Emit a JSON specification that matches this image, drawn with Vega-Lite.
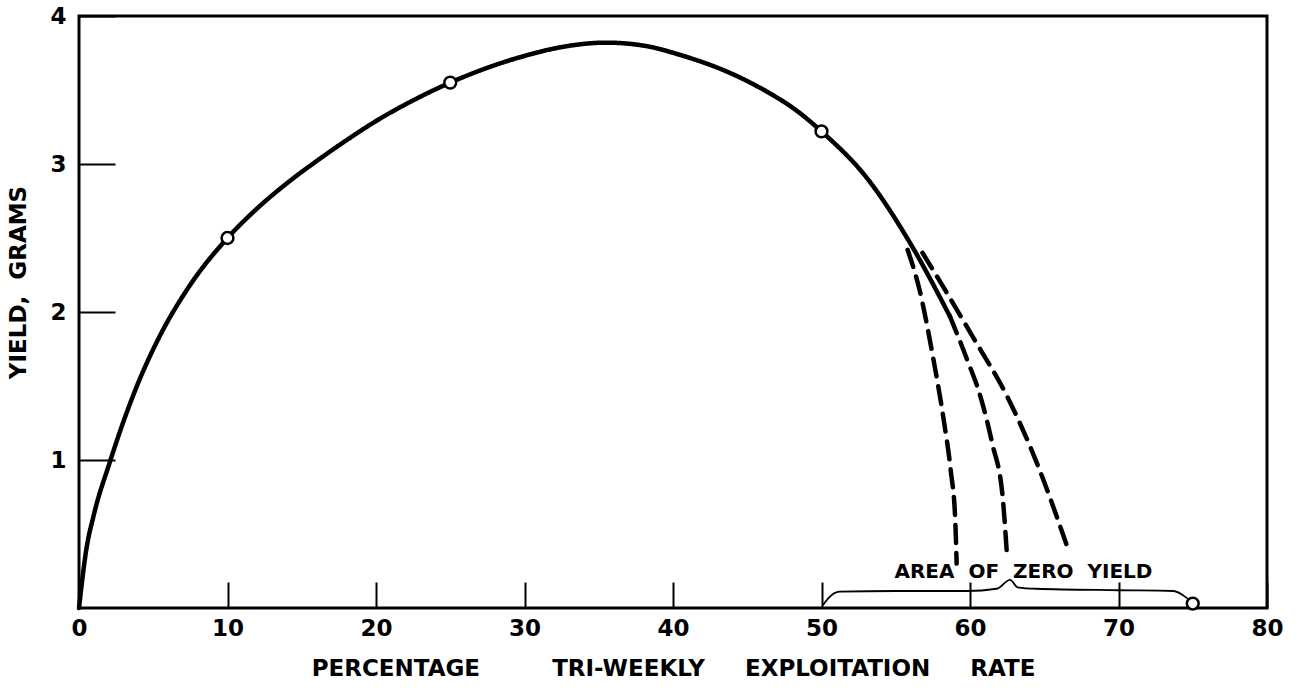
{
  "$schema": "https://vega.github.io/schema/vega-lite/v6.json",
  "width": 1188,
  "height": 592,
  "autosize": "none",
  "padding": {"left": 79, "top": 16, "right": 31, "bottom": 84},
  "background": "white",
  "config": {
    "view": {"stroke": "black", "strokeWidth": 3},
    "axis": {
      "domain": false,
      "grid": false,
      "tickColor": "black",
      "tickWidth": 2,
      "labelColor": "black",
      "labelFont": "DejaVu Sans",
      "labelFontWeight": "bold",
      "labelFontSize": 23,
      "titleColor": "black",
      "titleFont": "DejaVu Sans",
      "titleFontWeight": "bold",
      "titleFontSize": 23
    }
  },
  "datasets": {
    "curves": [
      {"curve": "main", "style": "solid", "rate": 0, "yield": 0},
      {"curve": "main", "style": "solid", "rate": 0.5, "yield": 0.4},
      {"curve": "main", "style": "solid", "rate": 1.0, "yield": 0.63},
      {"curve": "main", "style": "solid", "rate": 2.09, "yield": 0.99},
      {"curve": "main", "style": "solid", "rate": 3.03, "yield": 1.27},
      {"curve": "main", "style": "solid", "rate": 3.9, "yield": 1.5},
      {"curve": "main", "style": "solid", "rate": 5.25, "yield": 1.8},
      {"curve": "main", "style": "solid", "rate": 7.4, "yield": 2.17},
      {"curve": "main", "style": "solid", "rate": 10, "yield": 2.5},
      {"curve": "main", "style": "solid", "rate": 12, "yield": 2.7},
      {"curve": "main", "style": "solid", "rate": 14, "yield": 2.87},
      {"curve": "main", "style": "solid", "rate": 16, "yield": 3.02},
      {"curve": "main", "style": "solid", "rate": 18, "yield": 3.16},
      {"curve": "main", "style": "solid", "rate": 20, "yield": 3.29},
      {"curve": "main", "style": "solid", "rate": 22.5, "yield": 3.43},
      {"curve": "main", "style": "solid", "rate": 25, "yield": 3.55},
      {"curve": "main", "style": "solid", "rate": 27.5, "yield": 3.65},
      {"curve": "main", "style": "solid", "rate": 30, "yield": 3.73},
      {"curve": "main", "style": "solid", "rate": 32.5, "yield": 3.79},
      {"curve": "main", "style": "solid", "rate": 35.5, "yield": 3.82},
      {"curve": "main", "style": "solid", "rate": 38, "yield": 3.8},
      {"curve": "main", "style": "solid", "rate": 40.7, "yield": 3.73},
      {"curve": "main", "style": "solid", "rate": 43.5, "yield": 3.63},
      {"curve": "main", "style": "solid", "rate": 46.3, "yield": 3.49},
      {"curve": "main", "style": "solid", "rate": 48.2, "yield": 3.37},
      {"curve": "main", "style": "solid", "rate": 50, "yield": 3.22},
      {"curve": "main", "style": "solid", "rate": 53.1, "yield": 2.9},
      {"curve": "main", "style": "solid", "rate": 56, "yield": 2.46},
      {"curve": "main", "style": "solid", "rate": 58.65, "yield": 1.97},
      {"curve": "mid", "style": "dashed", "rate": 58.65, "yield": 1.97},
      {"curve": "mid", "style": "dashed", "rate": 59.8, "yield": 1.68},
      {"curve": "mid", "style": "dashed", "rate": 60.7, "yield": 1.43},
      {"curve": "mid", "style": "dashed", "rate": 61.5, "yield": 1.11},
      {"curve": "mid", "style": "dashed", "rate": 62.2, "yield": 0.75},
      {"curve": "mid", "style": "dashed", "rate": 62.5, "yield": 0.34},
      {"curve": "left", "style": "dashed", "rate": 55.8, "yield": 2.42},
      {"curve": "left", "style": "dashed", "rate": 56.6, "yield": 2.15},
      {"curve": "left", "style": "dashed", "rate": 57.5, "yield": 1.7},
      {"curve": "left", "style": "dashed", "rate": 58.2, "yield": 1.29},
      {"curve": "left", "style": "dashed", "rate": 58.7, "yield": 0.93},
      {"curve": "left", "style": "dashed", "rate": 59.0, "yield": 0.61},
      {"curve": "left", "style": "dashed", "rate": 59.1, "yield": 0.3},
      {"curve": "right", "style": "dashed", "rate": 56.8, "yield": 2.4},
      {"curve": "right", "style": "dashed", "rate": 58.2, "yield": 2.17},
      {"curve": "right", "style": "dashed", "rate": 60.2, "yield": 1.83},
      {"curve": "right", "style": "dashed", "rate": 62.5, "yield": 1.43},
      {"curve": "right", "style": "dashed", "rate": 64.5, "yield": 0.98},
      {"curve": "right", "style": "dashed", "rate": 66.7, "yield": 0.37}
    ],
    "brace": [
      {"rate": 50.1, "yield": 0.02},
      {"rate": 50.5, "yield": 0.07},
      {"rate": 51.2, "yield": 0.11},
      {"rate": 55, "yield": 0.115},
      {"rate": 59.8, "yield": 0.115},
      {"rate": 61.8, "yield": 0.13},
      {"rate": 62.7, "yield": 0.19},
      {"rate": 63.2, "yield": 0.14},
      {"rate": 64.5, "yield": 0.13},
      {"rate": 70, "yield": 0.12},
      {"rate": 73.7, "yield": 0.115},
      {"rate": 74.5, "yield": 0.075},
      {"rate": 75, "yield": 0.03}
    ],
    "observed": [
      {"rate": 10, "yield": 2.5},
      {"rate": 25, "yield": 3.55},
      {"rate": 50, "yield": 3.22},
      {"rate": 75, "yield": 0.03}
    ],
    "notes": [
      {"rate": 63.6, "yield": 0.24, "label": "AREA\u00a0\u00a0OF\u00a0\u00a0ZERO\u00a0\u00a0YIELD"}
    ]
  },
  "layer": [
    {
      "data": {"name": "curves"},
      "mark": {"type": "line", "interpolate": "monotone", "color": "black", "strokeWidth": 4.5, "strokeCap": "round"},
      "encoding": {
        "x": {
          "field": "rate", "type": "quantitative",
          "scale": {"domain": [0, 80], "nice": false, "zero": false},
          "axis": {
            "values": [0, 10, 20, 30, 40, 50, 60, 70, 80],
            "format": "d",
            "tickSize": -26,
            "labelPadding": 35,
            "labelFlush": false,
            "title": "PERCENTAGE\u00a0\u00a0\u00a0\u00a0\u00a0\u00a0\u00a0\u00a0\u00a0TRI-WEEKLY\u00a0\u00a0\u00a0\u00a0\u00a0EXPLOITATION\u00a0\u00a0\u00a0\u00a0\u00a0RATE",
            "titleY": 60,
            "titleBaseline": "middle"
          }
        },
        "y": {
          "field": "yield", "type": "quantitative",
          "scale": {"domain": [0, 4], "nice": false},
          "axis": {
            "values": [1, 2, 3, 4],
            "format": "d",
            "tickSize": -36,
            "labelPadding": 49,
            "labelFlush": false,
            "title": "YIELD,\u00a0\u00a0GRAMS",
            "titleX": -61,
            "titleY": 266,
            "titleAngle": -90,
            "titleBaseline": "middle",
            "titleAlign": "center"
          }
        },
        "detail": {"field": "curve"},
        "strokeDash": {
          "field": "style", "type": "nominal",
          "scale": {"domain": ["solid", "dashed"], "range": [[1, 0], [18, 10]]},
          "legend": null
        }
      }
    },
    {
      "data": {"name": "brace"},
      "mark": {"type": "line", "interpolate": "monotone", "color": "black", "strokeWidth": 1.8},
      "encoding": {
        "x": {"field": "rate", "type": "quantitative"},
        "y": {"field": "yield", "type": "quantitative"}
      }
    },
    {
      "data": {"name": "observed"},
      "mark": {"type": "point", "filled": true, "fill": "white", "stroke": "black", "strokeWidth": 2.5, "size": 140, "opacity": 1},
      "encoding": {
        "x": {"field": "rate", "type": "quantitative"},
        "y": {"field": "yield", "type": "quantitative"}
      }
    },
    {
      "data": {"name": "notes"},
      "mark": {"type": "text", "font": "DejaVu Sans", "fontWeight": "bold", "fontSize": 20, "color": "black", "align": "center", "baseline": "middle"},
      "encoding": {
        "x": {"field": "rate", "type": "quantitative"},
        "y": {"field": "yield", "type": "quantitative"},
        "text": {"field": "label"}
      }
    }
  ]
}
